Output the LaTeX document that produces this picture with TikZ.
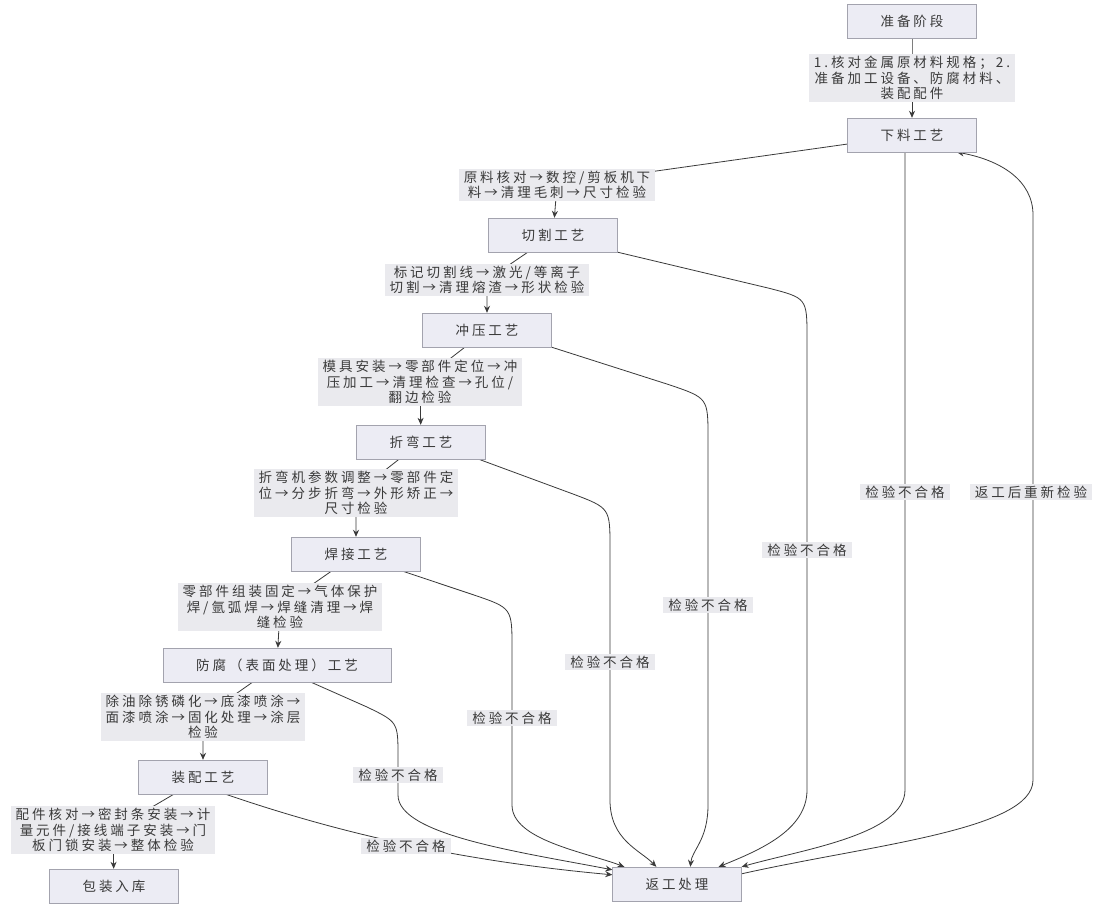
\documentclass[tikz,border=0pt]{standalone}
\usepackage{fontspec}
\setmainfont{Noto Sans CJK SC}[LetterSpace=22]
\usetikzlibrary{arrows.meta}
\definecolor{boxfill}{HTML}{ECECF4}
\definecolor{boxline}{HTML}{A3A3AE}
\definecolor{labfill}{HTML}{EAEAEE}
\definecolor{ink}{HTML}{3A3A3A}
\pgfdeclarelayer{edges}
\pgfsetlayers{edges,main}
\begin{document}
\begin{tikzpicture}[x=1bp, y=-1bp,
  box/.style={draw=boxline, fill=boxfill, text=ink, minimum height=34bp, inner xsep=33bp, font=\fontsize{13.5bp}{15.5bp}\selectfont},
  lab/.style={fill=labfill, text=ink, align=center, inner xsep=5bp, inner ysep=2bp, font=\fontsize{13.5bp}{15.5bp}\selectfont},
  flow/.style={draw=ink, line width=0.8bp, -{Stealth[length=7bp,width=6bp]}}]
\useasboundingbox (0,0) rectangle (1099,907);

% process steps
\node[box] (zb) at (912,21) {准备阶段};
\node[box] (xl) at (912,135) {下料工艺};
\node[box] (qg) at (553,235) {切割工艺};
\node[box] (cy) at (487,330) {冲压工艺};
\node[box] (zw) at (421,442) {折弯工艺};
\node[box] (hj) at (356,554) {焊接工艺};
\node[box] (ff) at (277,665) {防腐（表面处理）工艺};
\node[box] (zp) at (203,777) {装配工艺};
\node[box] (bz) at (114,886) {包装入库};
\node[box] (fg) at (677,884) {返工处理};

% step contents
\node[lab] (l0) at (912,78) {1.核对金属原材料规格；2.\\准备加工设备、防腐材料、\\装配配件};
\node[lab] (l1) at (557,185) {原料核对→数控/剪板机下\\料→清理毛刺→尺寸检验};
\node[lab] (l2) at (487,280) {标记切割线→激光/等离子\\切割→清理熔渣→形状检验};
\node[lab] (l3) at (420,382) {模具安装→零部件定位→冲\\压加工→清理检查→孔位/\\翻边检验};
\node[lab] (l4) at (356,493) {折弯机参数调整→零部件定\\位→分步折弯→外形矫正→\\尺寸检验};
\node[lab] (l5) at (280,607) {零部件组装固定→气体保护\\焊/氩弧焊→焊缝清理→焊\\缝检验};
\node[lab] (l6) at (203,717) {除油除锈磷化→底漆喷涂→\\面漆喷涂→固化处理→涂层\\检验};
\node[lab] (l7) at (113,830) {配件核对→密封条安装→计\\量元件/接线端子安装→门\\板门锁安装→整体检验};

% failure labels
\node[lab] (f1) at (905,492) {检验不合格};
\node[lab] (f2) at (807,550) {检验不合格};
\node[lab] (f3) at (708,605) {检验不合格};
\node[lab] (f4) at (610,662) {检验不合格};
\node[lab] (f5) at (512,718) {检验不合格};
\node[lab] (f6) at (398,775) {检验不合格};
\node[lab] (f7) at (406,846) {检验不合格};
\node[lab] (rw) at (1031,492) {返工后重新检验};

\begin{pgfonlayer}{edges}
\fill[white] (0,0) rectangle (1099,907);
% main chain
\draw[flow] (zb) -- (l0.center) -- (xl);
\draw[flow] (xl) -- (l1.center) -- (qg);
\draw[flow] (qg) -- (l2.center) -- (cy);
\draw[flow] (cy) -- (l3.center) -- (zw);
\draw[flow] (zw) -- (l4.center) -- (hj);
\draw[flow] (hj) -- (l5.center) -- (ff);
\draw[flow] (ff) -- (l6.center) -- (zp);
\draw[flow] (zp) -- (l7.center) -- (bz);

% rework branches
\draw[flow] ([xshift=-7bp]xl.south) -- (905,790) .. controls (905,835) and (800,850) .. (fg.north east);
\draw[flow] (qg.south east) -- (768,288) .. controls (807,298) .. (807,338) -- (807,790) .. controls (807,830) and (760,850) .. ([xshift=-23bp]fg.north east);
\draw[flow] (cy.south east) -- (670,385) .. controls (708,398) .. (708,438) -- (708,805) .. controls (708,840) and (692,850) .. ([xshift=78bp]fg.north west);
\draw[flow] ([xshift=-7bp]zw.south east) -- (573,494) .. controls (610,508) .. (610,548) -- (610,800) .. controls (610,840) and (640,850) .. ([xshift=44bp]fg.north west);
\draw[flow] ([xshift=-18bp]hj.south east) -- (474,595) .. controls (512,608) .. (512,648) -- (512,805) .. controls (512,840) and (585,852) .. ([xshift=12bp]fg.north west);
\draw[flow] ([xshift=-80bp]ff.south east) -- (367,707) .. controls (398,722) .. (398,757) -- (398,795) .. controls (398,835) and (520,852) .. ([yshift=-3bp]fg.north west);
\draw[flow] ([xshift=-42bp]zp.south east) .. controls (330,830) and (450,860) .. ([yshift=-8bp]fg.north west);
\draw[flow] ([yshift=-7bp]fg.north east) .. controls (870,845) and (1033,830) .. (1033,780) -- (1033,215) .. controls (1033,180) and (1000,160) .. ([xshift=45bp]xl.south);
\end{pgfonlayer}
\end{tikzpicture}
\end{document}
